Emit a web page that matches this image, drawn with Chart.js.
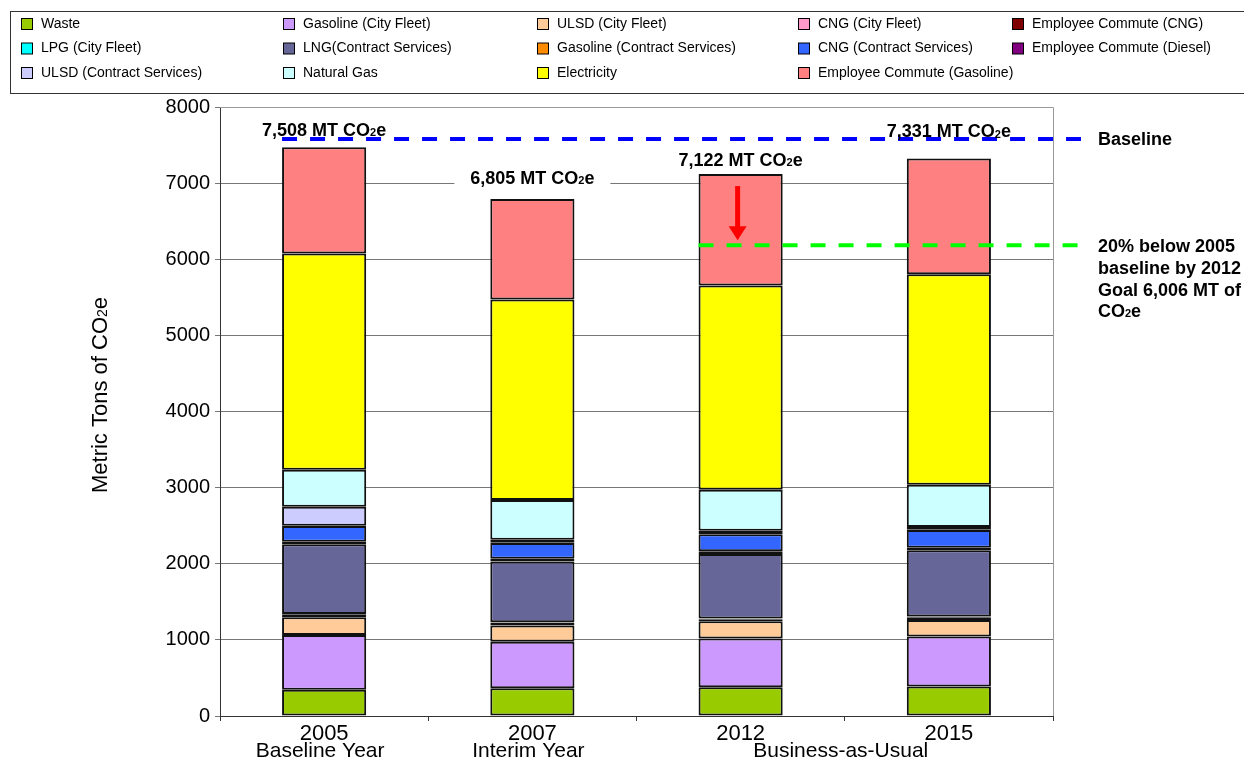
<!DOCTYPE html>
<html>
<head>
<meta charset="utf-8">
<script src="https://cdn.jsdelivr.net/npm/chart.js@4.4.0/dist/chart.umd.min.js"></script>
<style>
  body { margin: 0; background: #fff; }
  #wrap { width: 1244px; height: 758px; }
</style>
</head>
<body>
<div id="wrap"><canvas id="c" width="1244" height="758"></canvas></div>
<script>
// categories
var YEARS = ['2005', '2007', '2012', '2015'];
var YEAR_NOTES = ['Baseline Year', 'Interim Year', 'Business-as-Usual'];
var NOTE_AT = [0, 1, 2.5]; // category position of each note

// series (metric tons CO2e), bottom of the stack first
var waste        = [345, 365, 378, 387];
var gasCity      = [719, 609, 639, 656];
var ulsdCity     = [233, 214, 227, 219];
var cngCity      = [30, 33, 28, 34];
var empCng       = [8, 6, 5, 6];
var lpgCity      = [4, 4, 3, 4];
var lngContract  = [916, 797, 848, 870];
var gasContract  = [35, 39, 35, 35];
var cngContract  = [206, 206, 223, 232];
var empDiesel    = [4, 4, 4, 4];
var ulsdContract = [249, 39, 44, 36];
var naturalGas   = [487, 521, 538, 555];
var electricity  = [2838, 2633, 2682, 2765];
var empGasoline  = [1397, 1321, 1465, 1522];

var TOTAL_LABELS = ['7,508', '6,805', '7,122', '7,331'];
var BASELINE_LEVEL = 7580;
var GOAL_LEVEL = 6185;
var GOAL_TEXT = ['20% below 2005', 'baseline by 2012', 'Goal 6,006 MT of'];

var FONT = '"Liberation Sans", Arial, sans-serif';

var series = [
  ['Waste', waste, '#99CC00'],
  ['Gasoline (City Fleet)', gasCity, '#CC99FF'],
  ['ULSD (City Fleet)', ulsdCity, '#FFCC99'],
  ['CNG (City Fleet)', cngCity, '#FF99CC'],
  ['Employee Commute (CNG)', empCng, '#800000'],
  ['LPG (City Fleet)', lpgCity, '#00FFFF'],
  ['LNG(Contract Services)', lngContract, '#666699'],
  ['Gasoline (Contract Services)', gasContract, '#FF8C00'],
  ['CNG (Contract Services)', cngContract, '#3366FF'],
  ['Employee Commute (Diesel)', empDiesel, '#800080'],
  ['ULSD (Contract Services)', ulsdContract, '#CCCCFF'],
  ['Natural Gas', naturalGas, '#CCFFFF'],
  ['Electricity', electricity, '#FFFF00'],
  ['Employee Commute (Gasoline)', empGasoline, '#FF8080']
];

var datasets = series.map(function (s) {
  return {
    label: s[0],
    data: s[1],
    backgroundColor: s[2],
    borderColor: '#111',
    borderWidth: 2,
    borderSkipped: false,
    categoryPercentage: 1,
    barPercentage: 0.404
  };
});

// text with a subscript 2 in "CO2e"
function co2Text(ctx, prefix, x, y, size, weight, align) {
  var big = weight + ' ' + size + 'px ' + FONT;
  var small = weight + ' ' + Math.round(size * 0.62) + 'px ' + FONT;
  ctx.font = big;
  var w1 = ctx.measureText(prefix + 'CO').width;
  var w3 = ctx.measureText('e').width;
  ctx.font = small;
  var w2 = ctx.measureText('2').width;
  var total = w1 + w2 + w3;
  var x0 = align === 'center' ? x - total / 2 : (align === 'right' ? x - total : x);
  ctx.textAlign = 'left';
  ctx.textBaseline = 'middle';
  ctx.font = big;
  ctx.fillText(prefix + 'CO', x0, y);
  ctx.font = small;
  ctx.fillText('2', x0 + w1, y + size * 0.12);
  ctx.font = big;
  ctx.fillText('e', x0 + w1 + w2, y);
  return total;
}

var decorations = {
  id: 'decorations',
  beforeDatasetsDraw: function (chart) {
    var ctx = chart.ctx, a = chart.chartArea;
    ctx.save();
    ctx.strokeStyle = '#999';
    ctx.lineWidth = 1;
    ctx.beginPath();
    ctx.moveTo(a.left, a.top + 0.5);
    ctx.lineTo(a.right + 0.5, a.top + 0.5);
    ctx.lineTo(a.right + 0.5, a.bottom);
    ctx.stroke();
    ctx.restore();
  },
  afterDatasetsDraw: function (chart) {
    var ctx = chart.ctx, a = chart.chartArea;
    var xs = chart.scales.x, ys = chart.scales.y;
    var bars = chart.getDatasetMeta(0).data;
    var tops = chart.getDatasetMeta(series.length - 1).data;
    var offsets = [16, 20, 13, 26];
    ctx.save();

    // dashed reference lines
    ctx.lineWidth = 4;
    ctx.setLineDash([15, 13]);
    var yb = ys.getPixelForValue(BASELINE_LEVEL);
    ctx.strokeStyle = '#0000FF';
    ctx.beginPath();
    ctx.moveTo(bars[0].x - bars[0].width / 2, yb);
    ctx.lineTo(a.right + 28, yb);
    ctx.stroke();
    var yg = ys.getPixelForValue(GOAL_LEVEL);
    ctx.strokeStyle = '#00FF00';
    ctx.beginPath();
    ctx.moveTo(bars[2].x - bars[2].width / 2, yg);
    ctx.lineTo(a.right + 28, yg);
    ctx.stroke();
    ctx.setLineDash([]);

    // totals above bars
    ctx.fillStyle = '#000';
    YEARS.forEach(function (y, i) {
      var py = tops[i].y - offsets[i];
      var px = xs.getPixelForValue(i);
      if (i === 1) {
        ctx.fillStyle = '#fff';
        ctx.fillRect(px - 78, py - 12, 156, 24);
        ctx.fillStyle = '#000';
      }
      co2Text(ctx, TOTAL_LABELS[i] + ' MT ', px, py, 18, 'bold', 'center');
    });

    // red arrow inside the 2012 bar
    var ax = tops[2].x - 3;
    var arrowTop = tops[2].y + 12;
    ctx.fillStyle = '#FF0000';
    ctx.fillRect(ax - 2.5, arrowTop, 5, yg - 18 - arrowTop);
    ctx.beginPath();
    ctx.moveTo(ax - 9, yg - 19);
    ctx.lineTo(ax + 9, yg - 19);
    ctx.lineTo(ax, yg - 5);
    ctx.closePath();
    ctx.fill();

    // right side notes
    ctx.fillStyle = '#000';
    ctx.font = 'bold 18px ' + FONT;
    ctx.textAlign = 'left';
    ctx.textBaseline = 'middle';
    ctx.fillText('Baseline', a.right + 45, yb + 1);
    GOAL_TEXT.forEach(function (t, k) {
      ctx.fillText(t, a.right + 45, yg + 2 + k * 21.7);
    });
    co2Text(ctx, '', a.right + 45, yg + 2 + 3 * 21.7, 18, 'bold', 'left');

    // notes under the years
    ctx.font = '21px ' + FONT;
    ctx.textAlign = 'center';
    YEAR_NOTES.forEach(function (t, k) {
      var pos = NOTE_AT[k];
      var lo = Math.floor(pos), hi = Math.ceil(pos);
      var px = (xs.getPixelForValue(lo) + xs.getPixelForValue(hi)) / 2;
      ctx.fillText(t, px - 4, a.bottom + 35);
    });

    // y axis title
    ctx.translate(101, 395);
    ctx.rotate(-Math.PI / 2);
    co2Text(ctx, 'Metric Tons of ', 0, 0, 22, 'normal', 'center');
    ctx.restore();

    // legend
    ctx.save();
    ctx.strokeStyle = '#333';
    ctx.lineWidth = 1;
    ctx.strokeRect(10.5, 11.5, 1250, 82);
    var cols = [21, 283, 537, 798, 1012];
    var rows = [24, 48.5, 73];
    ctx.font = '14px ' + FONT;
    ctx.textAlign = 'left';
    ctx.textBaseline = 'middle';
    chart.data.datasets.forEach(function (d, i) {
      var cx = cols[i % 5], cy = rows[Math.floor(i / 5)];
      ctx.fillStyle = d.backgroundColor;
      ctx.fillRect(cx, cy - 5.5, 11, 11);
      ctx.strokeStyle = '#000';
      ctx.strokeRect(cx + 0.5, cy - 5.5, 11, 11);
      ctx.fillStyle = '#000';
      ctx.fillText(d.label, cx + 20, cy);
    });
    ctx.restore();
  }
};

new Chart(document.getElementById('c').getContext('2d'), {
  type: 'bar',
  data: { labels: YEARS, datasets: datasets },
  options: {
    responsive: false,
    animation: false,
    layout: { padding: { left: 0, top: 107, right: 191, bottom: 0 } },
    plugins: { legend: { display: false }, tooltip: { enabled: false } },
    scales: {
      x: {
        stacked: true,
        afterFit: function (s) { s.height = 42; },
        grid: { drawOnChartArea: false, drawTicks: true, tickLength: 5, color: '#333', offset: true },
        border: { color: '#333', width: 1 },
        ticks: { color: '#000', padding: 0, font: { size: 22, family: FONT } }
      },
      y: {
        stacked: true,
        min: 0,
        max: 8000,
        afterFit: function (s) { s.width = 220; },
        grid: { color: '#777', tickLength: 5 },
        border: { color: '#333', width: 1 },
        ticks: {
          stepSize: 1000, color: '#000', padding: 5, font: { size: 20, family: FONT },
          callback: function (v) { return String(v); }
        }
      }
    }
  },
  plugins: [decorations]
});
</script>
</body>
</html>
